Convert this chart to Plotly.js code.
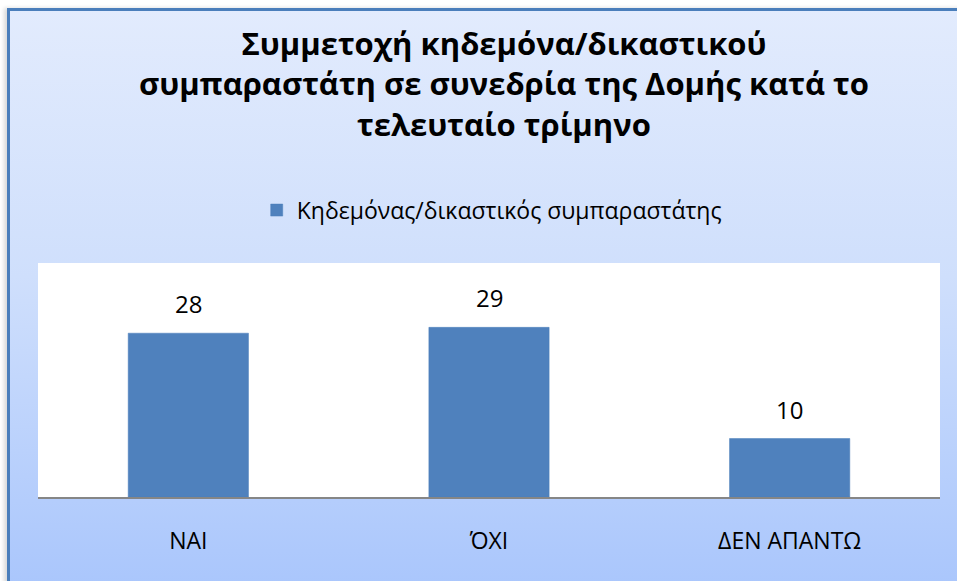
<!DOCTYPE html>
<html>
<head>
<meta charset="utf-8">
<script src="https://cdn.plot.ly/plotly-3.0.1.min.js"></script>
<style>
  html, body { margin: 0; padding: 0; background: #ffffff; width: 957px; height: 581px; overflow: hidden; }
  #frame {
    position: absolute; left: 7px; top: 8px; width: 960px; height: 590px;
    border-left: 3px solid #4a7ebb; border-top: 3px solid #4a7ebb;
    background: linear-gradient(to bottom, #e2ebfd 0%, #cfdffc 45%, #a8c5fc 100%);
    box-shadow: -3px 0 4px rgba(0,0,0,0.15);
  }
  #chart { position: absolute; left: 0; top: 0; width: 957px; height: 581px; }
</style>
</head>
<body>
<div id="frame"></div>
<div id="chart"></div>
<script>
const categories = ["ΝΑΙ", "ΌΧΙ", "ΔΕΝ ΑΠΑΝΤΩ"];
const values = [28, 29, 10];
const seriesName = "Κηδεμόνας/δικαστικός συμπαραστάτης";
const chartTitle = "Συμμετοχή κηδεμόνα/δικαστικού<br>συμπαραστάτη σε συνεδρία της Δομής κατά το<br>τελευταίο τρίμηνο";

const font = "Open Sans, Noto Sans, sans-serif";

const trace = {
  type: "bar",
  x: categories,
  y: values,
  name: seriesName,
  marker: { color: "#4f81bd", line: { color: "#4a7ebb", width: 0.5 } },
  showlegend: true,
  hoverinfo: "x+y"
};

const annotations = categories.map((c, i) => ({
  x: c, y: values[i], xref: "x", yref: "y",
  text: String(values[i]), showarrow: false,
  yanchor: "bottom", yshift: 11,
  font: { family: font, size: 24, color: "#000000" }
}));

const layout = {
  width: 957, height: 581,
  paper_bgcolor: "rgba(0,0,0,0)",
  plot_bgcolor: "#ffffff",
  margin: { l: 38, r: 17, t: 263, b: 84 },
  title: {
    text: chartTitle,
    x: 0.5166, xref: "paper", xanchor: "center",
    y: 0.905, yref: "container", yanchor: "top",
    font: { family: font, size: 31, color: "#000000", weight: "bold" }
  },
  showlegend: true,
  legend: {
    orientation: "h", x: 0.503, xanchor: "center", y: 1.226, yanchor: "middle",
    font: { family: font, size: 23, color: "#000000" },
    bgcolor: "rgba(0,0,0,0)"
  },
  bargap: 0.6,
  xaxis: {
    type: "category",
    showline: true, linecolor: "#868686", linewidth: 2,
    ticks: "", showgrid: false, zeroline: false,
    ticklabelstandoff: 22,
    tickfont: { family: font, size: 23, color: "#000000" }
  },
  yaxis: {
    range: [0, 40], visible: false, showgrid: false, zeroline: false, fixedrange: true
  },
  annotations: annotations
};

Plotly.newPlot("chart", [trace], layout, { displayModeBar: false, staticPlot: true });
</script>
</body>
</html>
